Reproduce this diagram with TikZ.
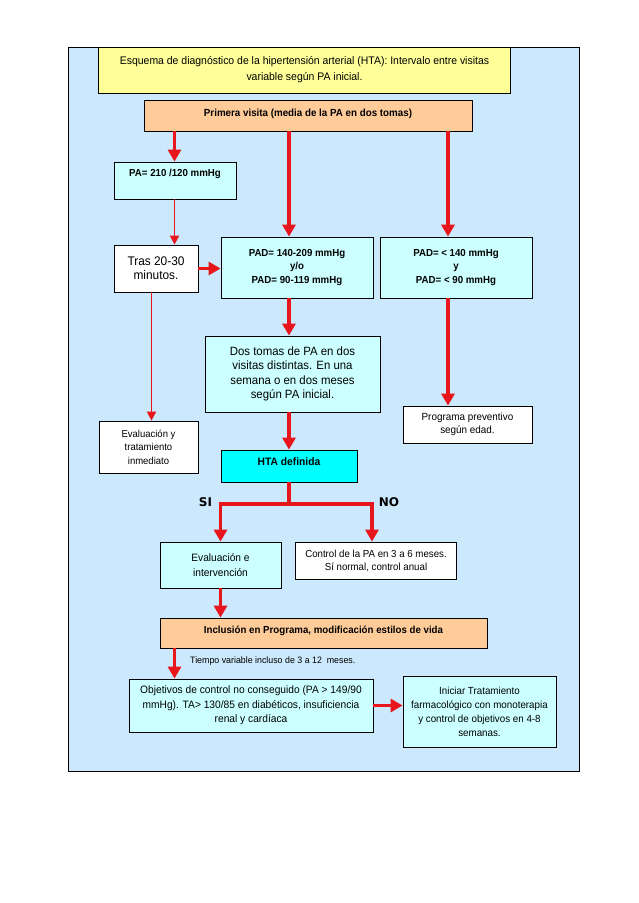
\documentclass[tikz,border=0pt]{standalone}
\usepackage{fontspec}
\setmainfont{Liberation Sans}[FakeStretch=0.95]
\newfontfamily\sinofont{DejaVu Sans}
\usetikzlibrary{arrows.meta,positioning,calc}
\definecolor{fondo}{RGB}{204,232,252}
\definecolor{amarillo}{RGB}{255,255,153}
\definecolor{salmon}{RGB}{255,204,153}
\definecolor{celeste}{RGB}{204,255,255}
\definecolor{cian}{RGB}{0,255,255}
\definecolor{rojo}{RGB}{230,22,28}

\begin{document}
\begin{tikzpicture}[x=1pt, y=-1pt, font=\fontsize{10}{13}\selectfont,
  caja/.style={draw, line width=0.8pt, inner sep=0pt, align=center},
  flecha/.style={draw=rojo, line width=3.5pt, -{Triangle[width=13pt,length=12pt]}},
  flechita/.style={draw=rojo, line width=1.8pt, -{Triangle[width=9pt,length=9pt]}}]
  \useasboundingbox[fill=white] (0,0) rectangle (639,903);
  % Marco de fondo
  \draw[fill=fondo, line width=0.8pt] (68,47) rectangle (579,771);

  % Cajas
  \node[caja, fill=amarillo, minimum width=412pt, minimum height=46pt, font=\fontsize{11}{16}\selectfont] (titulo) at (304.5,70) {Esquema de diagnóstico de la hipertensión arterial (HTA): Intervalo entre visitas\\variable según PA inicial.};
  \node[caja, fill=salmon, minimum width=328pt, text height=16.5pt, text depth=14.5pt, font=\bfseries\fontsize{10.3}{12}\selectfont] (visita) at (308,115.5) {Primera visita (media de la PA en dos tomas)};
  \node[caja, fill=celeste, minimum width=122pt, text height=14.6pt, text depth=22.4pt, font=\bfseries\fontsize{10.2}{12}\selectfont] (pa) at (175,180.5) {PA= 210 /120 mmHg};
  \node[caja, fill=white, minimum width=84pt, minimum height=47pt, font=\fontsize{12.5}{14}\selectfont] (tras) at (156,268.5) {Tras 20-30\\minutos.};
  \node[caja, fill=celeste, minimum width=152pt, minimum height=61pt, font=\bfseries\fontsize{10.2}{13.5}\selectfont] (padmid) at (297,267.5) {PAD= 140-209 mmHg\\y/o\\PAD= 90-119 mmHg};
  \node[caja, fill=celeste, minimum width=152pt, minimum height=61pt, font=\bfseries\fontsize{10.2}{13.5}\selectfont] (padlow) at (456,267.5) {PAD= < 140 mmHg\\y\\PAD= < 90 mmHg};
  \node[caja, fill=white, minimum width=99pt, minimum height=52pt, font=\fontsize{10}{13.5}\selectfont] (evalinm) at (148.5,447) {Evaluación y\\tratamiento\\inmediato};
  \node[caja, fill=celeste, minimum width=175pt, minimum height=76pt, font=\fontsize{12}{14.5}\selectfont] (dostomas) at (292.5,374) {Dos tomas de PA en dos\\visitas distintas. En una\\semana o en dos meses\\según PA inicial.};
  \node[caja, fill=white, minimum width=129pt, minimum height=37pt, font=\fontsize{10.4}{13}\selectfont] (preventivo) at (467.5,424.5) {Programa preventivo\\según edad.};
  \node[caja, fill=cian, minimum width=136pt, text height=15.5pt, text depth=16.5pt, font=\bfseries\fontsize{10.8}{12}\selectfont] (hta) at (289,466) {HTA definida};
  \node[caja, fill=celeste, minimum width=121pt, minimum height=46pt, font=\fontsize{10.7}{15}\selectfont] (evalint) at (220.5,565) {Evaluación e\\intervención};
  \node[caja, fill=white, minimum width=161.5pt, minimum height=37pt, font=\fontsize{10.2}{13}\selectfont] (control) at (376,560.5) {Control de la PA en 3 a 6 meses.\\Sí normal, control anual};
  \node[caja, fill=salmon, minimum width=327pt, text height=15.5pt, text depth=14.5pt, font=\bfseries\fontsize{10.2}{12}\selectfont] (inclusion) at (323.5,633) {Inclusión en Programa, modificación estilos de vida};
  \node[anchor=west, inner sep=0pt, font=\fontsize{9.3}{11}\selectfont] (tiempo) at (190,661) {Tiempo variable incluso de 3 a 12~ meses.};
  \node[caja, fill=celeste, minimum width=244pt, minimum height=53pt, font=\fontsize{10.75}{14.5}\selectfont] (objetivos) at (251,705.5) {Objetivos de control no conseguido (PA > 149/90\\mmHg). TA> 130/85 en diabéticos, insuficiencia\\renal y cardíaca};
  \node[caja, fill=celeste, minimum width=153pt, minimum height=71pt, font=\fontsize{10.3}{14}\selectfont] (iniciar) at (479.5,711.5) {Iniciar Tratamiento\\farmacológico con monoterapia\\y control de objetivos en 4-8\\semanas.};
  \node[font=\sinofont\bfseries\fontsize{12}{14}\selectfont] (si) at (205.5,502) {SI};
  \node[font=\sinofont\bfseries\fontsize{12}{14}\selectfont] (no) at (389,502) {NO};

  % Columnas de las flechas
  \coordinate (colL) at (174.5,0);
  \coordinate (colLL) at (151.5,0);
  \coordinate (colM) at (289,0);
  \coordinate (colR) at (448,0);
  \coordinate (rama) at (289,504);

  % Flechas
  \draw[flecha] (visita.south -| colL) -- (pa.north -| colL);
  \draw[flecha] (visita.south -| colM) -- (padmid.north -| colM);
  \draw[flecha] (visita.south -| colR) -- (padlow.north -| colR);
  \draw[flechita] (pa.south -| colL) -- (tras.north -| colL);
  \draw[flechita] (tras.south -| colLL) -- (evalinm.north -| colLL);
  \draw[flecha] (tras.east) -- (tras.east -| padmid.west);
  \draw[flecha] (padmid.south -| colM) -- (dostomas.north -| colM);
  \draw[flecha] (padlow.south -| colR) -- (preventivo.north -| colR);
  \draw[flecha] (dostomas.south -| colM) -- (hta.north -| colM);
  \draw[draw=rojo, line width=3.5pt] (hta.south -| colM) -- (rama);
  \draw[flecha] (rama) -| (evalint.north);
  \draw[flecha] (rama) -| ([xshift=-4pt]control.north);
  \draw[flecha] (evalint.south) -- (evalint.south |- inclusion.north);
  \draw[flecha] (inclusion.south -| colL) -- (objetivos.north -| colL);
  \draw[flecha] (objetivos.east) -- (objetivos.east -| iniciar.west);
\end{tikzpicture}
\end{document}
